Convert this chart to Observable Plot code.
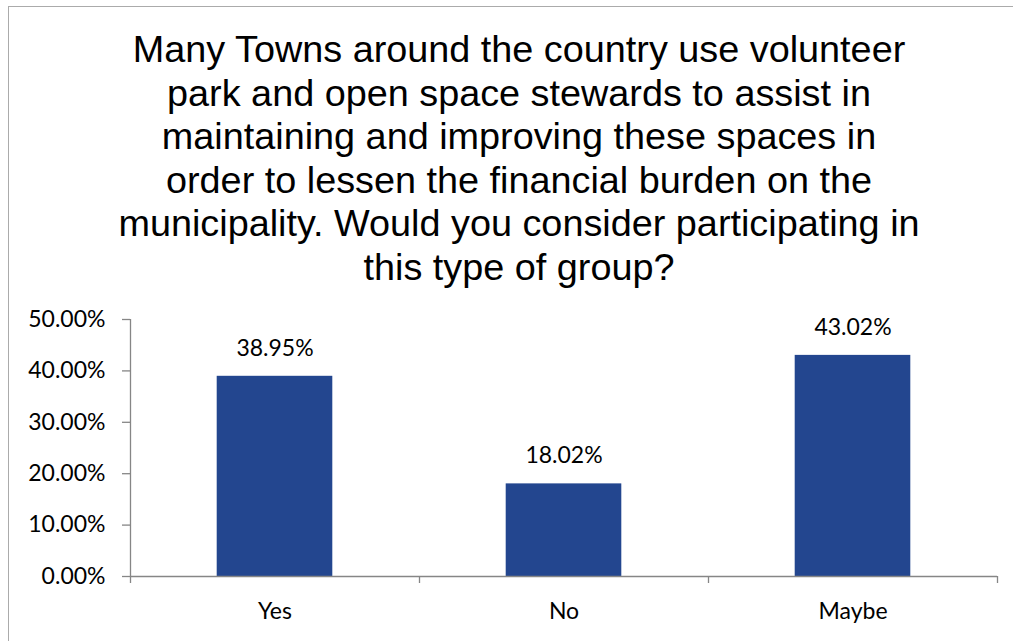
<!DOCTYPE html>
<html>
<head>
<meta charset="utf-8">
<script src="https://cdn.jsdelivr.net/npm/d3@7"></script>
<script src="https://cdn.jsdelivr.net/npm/@observablehq/plot@0.6"></script>
<style>
  html, body { margin: 0; padding: 0; background: #fff; }
  #wrap { position: relative; width: 1013px; height: 641px; overflow: hidden; background: #fff; }
  #borderTop { position: absolute; left: 8px; top: 6px; width: 1005px; height: 0; border-top: 1.5px solid #ABABAB; }
  #borderLeft { position: absolute; left: 8px; top: 6px; width: 0; height: 635px; border-left: 1.5px solid #ABABAB; }
  #title { position: absolute; left: 0; top: 28px; width: 1038px; text-align: center;
           font-family: "Liberation Sans", Arial, sans-serif; font-size: 37.8px; line-height: 43.5px; color: #000; }
  #chart { position: absolute; left: 0; top: 290px; }
</style>
</head>
<body>
<div id="wrap">
  <div id="borderTop"></div>
  <div id="borderLeft"></div>
  <div id="title"></div>
  <div id="chart"></div>
</div>
<script>
const titleLines = [
  "Many Towns around the country use volunteer",
  "park and open space stewards to assist in",
  "maintaining and improving these spaces in",
  "order to lessen the financial burden on the",
  "municipality. Would you consider participating in",
  "this type of group?"
];
const categories = ["Yes", "No", "Maybe"];
const values = [38.95, 18.02, 43.02];
const yTicks = [0, 10, 20, 30, 40, 50];

document.getElementById("title").innerHTML = titleLines.join("<br>");

const rows = categories.map((c, i) => ({category: c, i, value: values[i]}));
const gap = 0.3;           // half of Excel's 150% gap width, as fraction of a category slot
const axisColor = "#868686";
const font = "Lato, 'Open Sans', sans-serif";

const chart = Plot.plot({
  width: 1013,
  height: 351,
  marginLeft: 130,
  marginRight: 16,
  marginTop: 29,
  marginBottom: 65,
  style: {fontFamily: font, fontSize: "23px", color: "#000", background: "transparent"},
  x: {type: "linear", domain: [0, categories.length], axis: null},
  y: {domain: [0, 50], axis: null},
  marks: [
    Plot.rectY(rows, {x1: d => d.i + gap, x2: d => d.i + 1 - gap, y: "value", fill: "#23468F"}),
    Plot.ruleX([0], {stroke: axisColor, strokeWidth: 1.3}),
    Plot.ruleY([0], {stroke: axisColor, strokeWidth: 1.3}),
    Plot.axisY({ticks: yTicks, tickFormat: d => d.toFixed(2) + "%", tickSize: 8, tickPadding: 17,
                stroke: axisColor, strokeWidth: 1.3, fill: "#000", fontSize: 23, label: null}),
    Plot.axisX({ticks: d3.range(categories.length + 1), tickFormat: () => "", tickSize: 7,
                stroke: axisColor, strokeWidth: 1.3, label: null}),
    Plot.text(rows, {x: d => d.i + 0.5, frameAnchor: "bottom", dy: 42, text: "category",
                     fontSize: 23, fill: "#000"}),
    Plot.text(rows, {x: d => d.i + 0.5, y: "value", dy: -28, text: d => d.value.toFixed(2) + "%",
                     fontSize: 23, fill: "#000"})
  ]
});
document.getElementById("chart").appendChild(chart);
</script>
</body>
</html>
